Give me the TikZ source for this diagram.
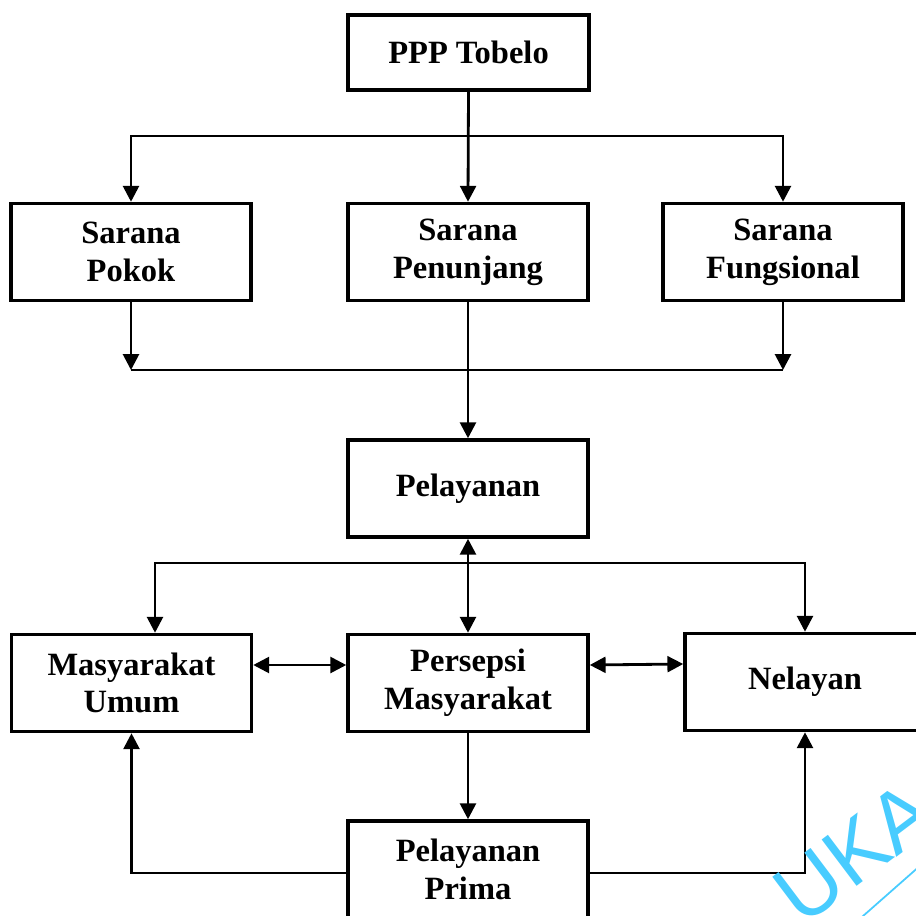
\documentclass[tikz,border=0pt]{standalone}
\usepackage{fontspec}
\setmainfont{Liberation Serif}
\newfontfamily\wmfont{Liberation Sans}
\usetikzlibrary{arrows.meta, calc, positioning}
\definecolor{wmblue}{RGB}{72, 204, 255}
\tikzset{
	kotak/.style={shape=rectangle, draw=black, line width=2pt, minimum width=4.8cm, minimum height=1.94cm, align=center, font=\bfseries\fontsize{18.5}{21.5}\selectfont},
	garis/.style={draw=black, line width=1.6pt},
	panah/.style={garis, -{Triangle[length=9pt, width=9pt]}},
	panahdua/.style={garis, {Triangle[length=9pt, width=9pt]}-{Triangle[length=9pt, width=9pt]}}
}
\begin{document}
\begin{tikzpicture}
			\useasboundingbox (0,0) rectangle (18.32,-18.32);
			
			\node[kotak, minimum height=1.5cm, minimum width=4.82cm] (PPP) at (9.37,-1.05) {PPP Tobelo};
			
			\node[kotak] (Pokok) at (2.62,-5.04) {Sarana\\Pokok};
			\node[kotak] (Penunjang) at (9.36,-5.04) {Sarana\\Penunjang};
			\node[kotak] (Fungsional) at (15.66,-5.04) {Sarana\\Fungsional};
			
			\node[kotak] (Pelayanan) at (9.36,-9.77) {Pelayanan};
			
			\node[kotak] (Umum) at (2.63,-13.66) {Masyarakat\\Umum};
			\node[kotak] (Persepsi) at (9.36,-13.66) {Persepsi\\Masyarakat};
			\node[kotak] (Nelayan) at (16.1,-13.64) {Nelayan};
			
			\node[kotak] (Prima) at (9.36,-17.39) {Pelayanan\\Prima};
			
			\coordinate (Bagi) at (9.36,-2.72);
			\draw[panah] (PPP.south) -- (Penunjang.north);
			\draw[panah] (Bagi) -| (Pokok.north);
			\draw[panah] (Bagi) -| (Fungsional.north);
			
			\coordinate (Gabung) at (9.36,-7.4);
			\draw[panah] (Pokok.south) -- (Pokok.south |- Gabung);
			\draw[panah] (Fungsional.south) -- (Fungsional.south |- Gabung);
			\draw[garis] (Pokok.south |- Gabung) -- (Fungsional.south |- Gabung);
			\draw[panah] (Penunjang.south) -- (Pelayanan.north);
			
			\coordinate (Sebar) at (9.36,-11.26);
			\draw[panahdua] (Pelayanan.south) -- (Persepsi.north);
			\draw[panah] (Sebar) -| ($(Umum.north)+(0.47,0)$);
			\draw[panah] (Sebar) -| (Nelayan.north);
			
			\draw[panahdua] ([yshift=0.36cm]Umum.east) -- ([yshift=0.36cm]Persepsi.west);
			\draw[panahdua] ([yshift=0.36cm]Persepsi.east) -- ([yshift=0.36cm]Nelayan.west);
			
			\draw[panah] (Persepsi.south) -- (Prima.north);
			\draw[panah] ([yshift=-0.07cm]Prima.west) -| (Umum.south);
			\draw[panah] ([yshift=-0.07cm]Prima.east) -| (Nelayan.south);
			
			\node[text=wmblue, rotate=37, font=\wmfont\fontsize{48}{48}\selectfont] (WM) at (17.1,-17.05) {UKA};
			\draw[wmblue, line width=1pt] (18.6,-17.14) -- (17.0,-18.55);
			
\end{tikzpicture}
\end{document}
